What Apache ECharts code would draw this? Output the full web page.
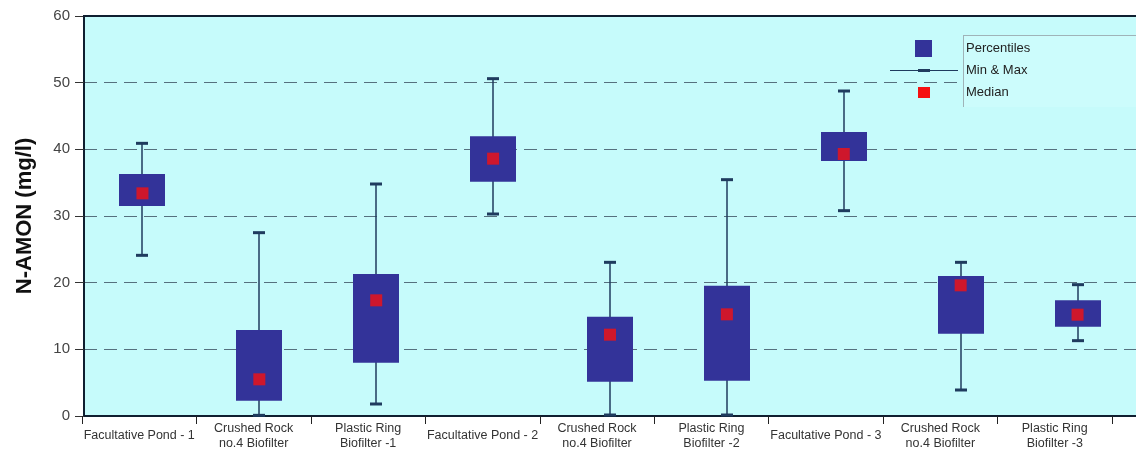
<!DOCTYPE html>
<html>
<head>
<meta charset="utf-8">
<script src="https://cdn.jsdelivr.net/npm/echarts@6/dist/echarts.min.js"></script>
<style>
html,body{margin:0;padding:0;background:#fff;overflow:hidden;}
#chart{width:1136px;height:454px;}
</style>
</head>
<body>
<div id="chart"></div>
<script>
const categories = [
  'Facultative Pond - 1', 'Crushed Rock\nno.4 Biofilter', 'Plastic Ring\nBiofilter -1',
  'Facultative Pond - 2', 'Crushed Rock\nno.4 Biofilter', 'Plastic Ring\nBiofilter -2',
  'Facultative Pond - 3', 'Crushed Rock\nno.4 Biofilter', 'Plastic Ring\nBiofilter -3'
];
const minValues    = [24.1, 0.1, 1.8, 30.3, 0.15, 0.15, 30.8, 3.9, 11.3];
const q1Values     = [31.5, 2.3, 8.0, 35.15, 5.15, 5.3, 38.25, 12.35, 13.4];
const medianValues = [33.4, 5.5, 17.35, 38.6, 12.2, 15.25, 39.3, 19.6, 15.2];
const q3Values     = [36.3, 12.9, 21.3, 41.95, 14.9, 19.55, 42.6, 21.0, 17.35];
const maxValues    = [40.9, 27.5, 34.8, 50.6, 23.05, 35.45, 48.75, 23.05, 19.7];
const yTicks = { min: 0, max: 60, interval: 10 };
const legendLabels = ['Percentiles', 'Min & Max', 'Median'];

const BOX = '#333399', WHISK = '#1f3b5e', RED = '#f51010', BG = '#c6fbfb', AXIS = '#0f1f30';

const boxData = categories.map((c, i) => [i, minValues[i], q1Values[i], medianValues[i], q3Values[i], maxValues[i]]);

function renderBox(params, api) {
  const i = api.value(0);
  const pMin = api.coord([i, api.value(1)]);
  const pQ1 = api.coord([i, api.value(2)]);
  const pQ3 = api.coord([i, api.value(4)]);
  const pMax = api.coord([i, api.value(5)]);
  const cx = Math.round(pMin[0]);
  const bw = 46, cw = 12;
  return {
    type: 'group',
    children: [
      { type: 'line', shape: { x1: cx, y1: pMax[1], x2: cx, y2: pMin[1] }, style: { stroke: WHISK, lineWidth: 1.5 } },
      { type: 'line', shape: { x1: cx - cw / 2, y1: pMax[1], x2: cx + cw / 2, y2: pMax[1] }, style: { stroke: WHISK, lineWidth: 3 } },
      { type: 'line', shape: { x1: cx - cw / 2, y1: pMin[1], x2: cx + cw / 2, y2: pMin[1] }, style: { stroke: WHISK, lineWidth: 3 } },
      { type: 'rect', shape: { x: cx - bw / 2, y: pQ3[1], width: bw, height: pQ1[1] - pQ3[1] }, style: { fill: BOX } }
    ]
  };
}

const chart = echarts.init(document.getElementById('chart'), null, { renderer: 'canvas' });
const txt = { fontFamily: 'Liberation Sans, Arial, sans-serif', fontSize: 13, fill: '#222' };

chart.setOption({
  animation: false,
  backgroundColor: '#ffffff',
  grid: [
    { left: 84, right: 0, top: 16, bottom: 38, show: true, backgroundColor: BG, borderWidth: 0 },
    { left: 82, right: 24, top: 16, bottom: 38, show: false }
  ],
  xAxis: [
    {
      type: 'category', gridIndex: 0, data: categories,
      axisLine: { show: true, lineStyle: { color: AXIS, width: 2 } },
      axisTick: { show: false }, axisLabel: { show: false }, splitLine: { show: false }
    },
    {
      type: 'category', gridIndex: 1, data: categories,
      axisLine: { show: false },
      axisTick: { show: true, length: 8, lineStyle: { color: '#222', width: 1 } },
      axisLabel: {
        interval: 0, margin: 20, verticalAlign: 'middle', lineHeight: 15,
        fontSize: 12.5, color: '#333', fontFamily: 'Liberation Sans, Arial, sans-serif'
      }
    }
  ],
  yAxis: [
    {
      type: 'value', gridIndex: 0, min: yTicks.min, max: yTicks.max, interval: yTicks.interval,
      name: 'N-AMON (mg/l)', nameLocation: 'middle', nameGap: 48,
      nameTextStyle: { fontSize: 22, fontWeight: 'bold', color: '#111', fontFamily: 'Liberation Sans, Arial, sans-serif' },
      axisLine: { show: true, lineStyle: { color: AXIS, width: 2 } },
      axisTick: { show: true, length: 9, lineStyle: { color: '#333' } },
      axisLabel: { fontSize: 15, color: '#444', margin: 14, fontFamily: 'Liberation Sans, Arial, sans-serif' },
      splitLine: { show: true, lineStyle: { color: '#55707e', type: [13, 7], width: 1 } }
    },
    { type: 'value', gridIndex: 1, show: false, min: 0, max: 60 }
  ],
  series: [
    {
      type: 'custom', xAxisIndex: 0, yAxisIndex: 0, renderItem: renderBox,
      encode: { x: 0, y: [1, 2, 3, 4, 5] }, data: boxData, z: 3, clip: false
    },
    {
      type: 'scatter', xAxisIndex: 0, yAxisIndex: 0, data: medianValues,
      symbol: 'rect', symbolSize: 12, itemStyle: { color: RED }, z: 4
    }
  ],
  graphic: [
    { type: 'line', z: 60, shape: { x1: 83, y1: 16, x2: 1136, y2: 16 }, style: { stroke: AXIS, lineWidth: 2 } },
    { type: 'rect', z: 50, shape: { x: 963, y: 35, width: 200, height: 72 }, style: { fill: '#ccfcfc' } },
    { type: 'line', z: 51, shape: { x1: 963.5, y1: 35, x2: 963.5, y2: 107 }, style: { stroke: '#9fb3b8', lineWidth: 1 } },
    { type: 'line', z: 51, shape: { x1: 963, y1: 35.5, x2: 1136, y2: 35.5 }, style: { stroke: '#9fb3b8', lineWidth: 1 } },
    { type: 'rect', z: 52, shape: { x: 915, y: 40, width: 17, height: 17 }, style: { fill: BOX } },
    { type: 'text', z: 52, x: 966, y: 48.5, style: Object.assign({ text: legendLabels[0], verticalAlign: 'middle' }, txt) },
    { type: 'line', z: 52, shape: { x1: 890, y1: 70.5, x2: 958, y2: 70.5 }, style: { stroke: WHISK, lineWidth: 1.2 } },
    { type: 'line', z: 52, shape: { x1: 918, y1: 70.5, x2: 930, y2: 70.5 }, style: { stroke: WHISK, lineWidth: 3 } },
    { type: 'text', z: 52, x: 966, y: 70.5, style: Object.assign({ text: legendLabels[1], verticalAlign: 'middle' }, txt) },
    { type: 'rect', z: 52, shape: { x: 918, y: 87, width: 12, height: 11 }, style: { fill: RED } },
    { type: 'text', z: 52, x: 966, y: 92.5, style: Object.assign({ text: legendLabels[2], verticalAlign: 'middle' }, txt) }
  ]
});
</script>
</body>
</html>
